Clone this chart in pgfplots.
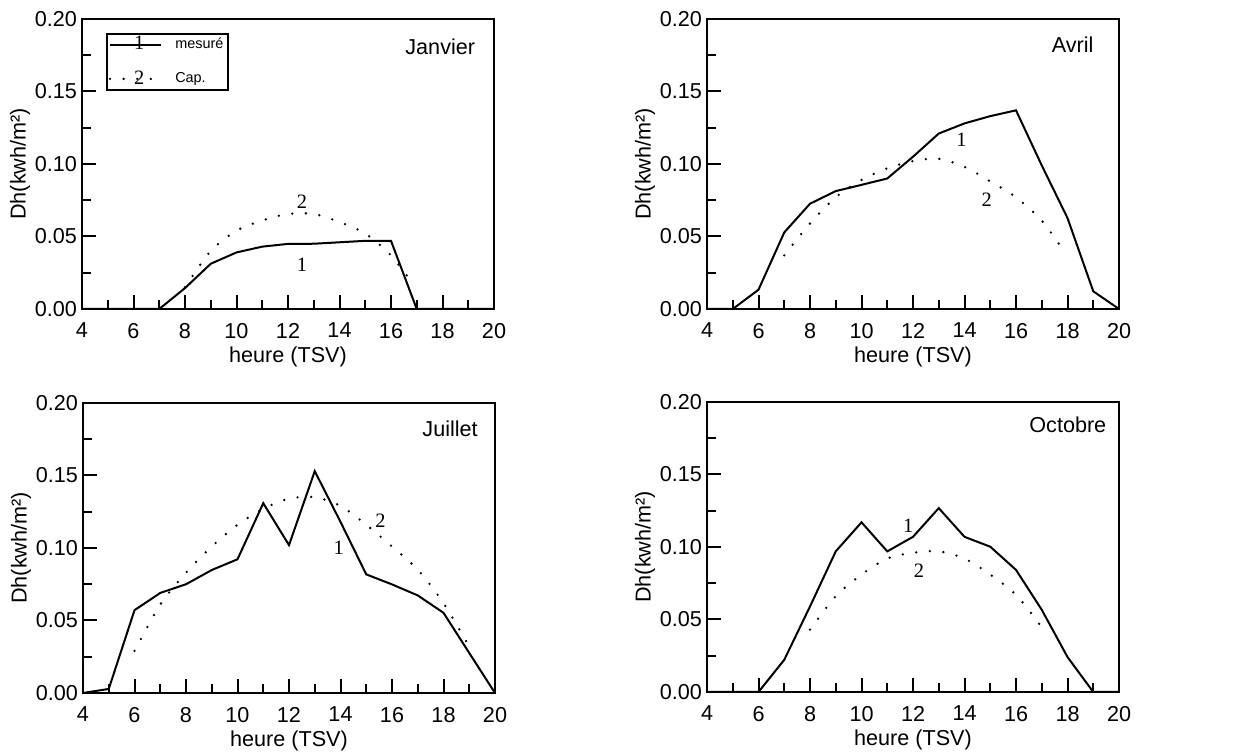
\documentclass[border=0pt]{standalone}
\usepackage{fontspec}
\setmainfont{Liberation Sans}
\newfontfamily\serifnum{Liberation Serif}
\usepackage{pgfplots}
\pgfplotsset{compat=1.18}
\tikzset{
  num/.style={font=\serifnum\fontsize{10.2}{12}\selectfont, inner sep=0pt},
  month/.style={anchor=east, inner sep=0pt},
}
\pgfplotsset{
  panel/.style={
    scale only axis, width=206pt, height=145pt,
    anchor=south west,
    xmin=4, xmax=20, ymin=0, ymax=0.2,
    xtick={4,6,...,20}, minor xtick={5,7,...,19},
    ytick={0,0.05,0.1,0.15,0.2}, minor ytick={0.025,0.075,0.125,0.175},
    tick pos=left, tick align=inside,
    major tick length=7pt, minor tick length=4.5pt,
    tick style={black, line width=1pt},
    axis line style={line width=1pt},
    /pgf/number format/assume math mode=true,
    font=\fontsize{10.8}{12.5}\selectfont,
    yticklabel style={/pgf/number format/fixed, /pgf/number format/fixed zerofill, /pgf/number format/precision=2, /tikz/xshift=1pt},
    xticklabel style={/tikz/yshift=-3.5pt},
    xlabel={heure (TSV)}, ylabel={Dh(kwh/m²)},
    every axis x label/.style={at={([yshift=-24pt]axis description cs:0.5,0)}, anchor=center},
    every axis y label/.style={at={([xshift=-31pt]axis description cs:0,0.5)}, anchor=center, rotate=90},
  },
  mes/.style={black, line width=1pt, mark=none},
  cap/.style={black, line width=1.3pt, line cap=round, dash pattern=on 0pt off 6.8pt, smooth, mark=none},
}
\begin{document}
\begin{tikzpicture}
\useasboundingbox (0,0) rectangle (617.5pt,376.5pt);
% Janvier
\begin{axis}[panel, at={(41pt,222pt)},
  legend style={at={(rel axis cs:0.0576,0.952)}, anchor=north west, draw=black, line width=1pt,
    font=\fontsize{7.2}{8}\selectfont, inner xsep=1pt, inner ysep=1pt, row sep=8pt,
    nodes={inner sep=1.5pt, text height=5pt, text depth=1pt},
    /tikz/every odd column/.append style={column sep=5pt}},
  legend cell align=left]
\addlegendimage{legend image code/.code={\draw[black, line width=1pt] (0pt,0pt) -- (25.5pt,0pt); \node[num] at (11.5pt,-0.5pt) {1};}}
\addlegendentry{mesuré}
\addlegendimage{legend image code/.code={\draw[black, line width=1.3pt, line cap=round, dash pattern=on 0pt off 6.8pt] (0pt,0pt) -- (25.5pt,0pt); \node[num] at (11.5pt,-1pt) {2};}}
\addlegendentry{Cap.}
\addplot[mes] coordinates {(4,0) (5,0) (6,0) (7,0) (8,0.0144) (9,0.0312) (10,0.039) (11,0.043) (12,0.0449) (13,0.045) (14,0.046) (15,0.047) (16,0.047) (17,0) (18,0) (19,0) (20,0)};
\addplot[cap] coordinates {(8,0.015) (9,0.040) (10,0.054) (11,0.061) (12,0.0655) (13,0.0655) (14,0.060) (15,0.052) (16,0.037) (16.9,0.016)};
\node[num] at (axis cs:12.54,0.074) {2};
\node[num] at (axis cs:12.54,0.0305) {1};
\node[month] at (rel axis cs:0.955,0.903) {Janvier};
\end{axis}
% Avril
\begin{axis}[panel, at={(353.5pt,222pt)}]
\addplot[mes] coordinates {(4,0) (5,0) (6,0.0133) (7,0.0528) (8,0.0726) (9,0.0813) (10,0.0856) (11,0.090) (12,0.105) (13,0.121) (14,0.128) (15,0.133) (16,0.137) (17,0.099) (18,0.0627) (19,0.0122) (20,0)};
\addplot[cap] coordinates {(7,0.037) (8,0.059) (9,0.077) (10,0.089) (11,0.097) (12,0.102) (13,0.1036) (14,0.098) (15,0.088) (16,0.077) (17,0.061) (17.85,0.040)};
\node[num] at (axis cs:13.88,0.1166) {1};
\node[num] at (axis cs:14.86,0.0753) {2};
\node[month] at (rel axis cs:0.939,0.910) {Avril};
\end{axis}
% Juillet
\begin{axis}[panel, at={(41.5pt,30pt)}]
\addplot[mes] coordinates {(4,0) (5,0.0028) (6,0.0571) (7,0.069) (8,0.075) (9,0.0848) (10,0.0922) (11,0.1309) (12,0.102) (13,0.153) (14,0.118) (15,0.0818) (16,0.0749) (17,0.0673) (18,0.0553) (19,0.0276) (20,0)};
\addplot[cap] coordinates {(6,0.029) (7,0.061) (8,0.083) (9,0.101) (10,0.116) (11,0.127) (12,0.134) (13,0.135) (14,0.129) (15,0.116) (16,0.101) (17,0.085) (18,0.062) (19,0.032)};
\node[num] at (axis cs:15.55,0.1187) {2};
\node[num] at (axis cs:13.93,0.1002) {1};
\node[month] at (rel axis cs:0.959,0.910) {Juillet};
\end{axis}
% Octobre
\begin{axis}[panel, at={(353.5pt,30.5pt)}]
\addplot[mes] coordinates {(4,0) (5,0) (6,0) (7,0.0222) (8,0.059) (9,0.097) (10,0.117) (11,0.097) (12,0.107) (13,0.1268) (14,0.107) (15,0.1002) (16,0.0842) (17,0.0567) (18,0.0241) (19,0) (20,0)};
\addplot[cap] coordinates {(8,0.043) (9,0.066) (10,0.081) (11,0.092) (12,0.096) (13,0.097) (14,0.092) (15,0.081) (16,0.067) (16.9,0.047)};
\node[num] at (axis cs:11.81,0.1147) {1};
\node[num] at (axis cs:12.23,0.0837) {2};
\node[month] at (rel axis cs:0.970,0.923) {Octobre};
\end{axis}
\end{tikzpicture}
\end{document}
